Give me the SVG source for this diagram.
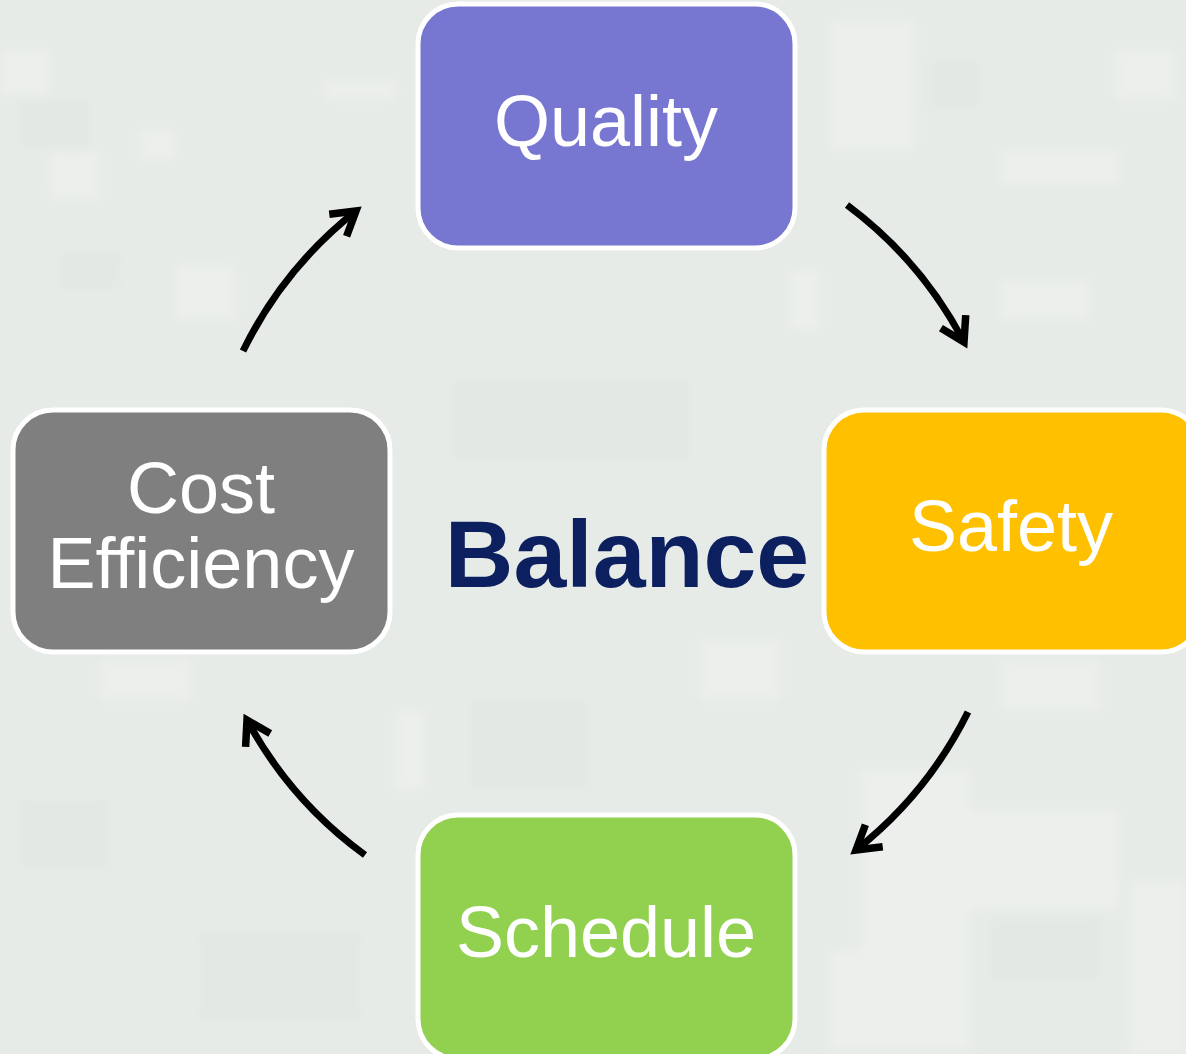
<svg xmlns="http://www.w3.org/2000/svg" width="1186" height="1054" viewBox="0 0 1186 1054">
  <defs>
    <style>
      .node-box { stroke: #ffffff; stroke-width: 5; }
      .label { font-family: "Liberation Sans", Arial, sans-serif; font-size: 72px; fill: #ffffff; text-anchor: middle; }
      .center { font-family: "Liberation Sans", Arial, sans-serif; font-size: 95px; font-weight: bold; fill: #0c2060; text-anchor: middle; }
      .flow { fill: none; stroke: #000000; stroke-width: 7; marker-end: url(#chevron); }
      .patch-l { fill: #f1f3ee; }
      .patch-d { fill: #e0e6e2; }
    </style>
    <marker id="chevron" markerUnits="userSpaceOnUse" orient="auto" refX="0" refY="0" markerWidth="40" markerHeight="40" viewBox="-30 -20 40 40" overflow="visible">
      <path d="M-23,-14 L0,0 L-23,14" fill="none" stroke="#000000" stroke-width="7.5" stroke-linejoin="miter"/>
    </marker>
    <filter id="soft" x="-5%" y="-5%" width="110%" height="110%">
      <feGaussianBlur stdDeviation="4"/>
    </filter>
  </defs>

  <!-- soft camouflage backdrop -->
  <rect width="1186" height="1054" fill="#e6ebe8"/>
  <g filter="url(#soft)" opacity="0.55">
    <rect class="patch-l" x="0" y="50" width="50" height="45"/>
    <rect class="patch-l" x="50" y="150" width="50" height="50"/>
    <rect class="patch-l" x="140" y="130" width="35" height="30"/>
    <rect class="patch-l" x="175" y="265" width="60" height="55"/>
    <rect class="patch-l" x="325" y="80" width="70" height="20"/>
    <rect class="patch-l" x="830" y="20" width="85" height="130"/>
    <rect class="patch-l" x="1000" y="150" width="120" height="35"/>
    <rect class="patch-l" x="1115" y="50" width="60" height="50"/>
    <rect class="patch-l" x="1000" y="280" width="90" height="40"/>
    <rect class="patch-l" x="790" y="270" width="30" height="60"/>
    <rect class="patch-d" x="930" y="60" width="50" height="50"/>
    <rect class="patch-d" x="20" y="100" width="70" height="50"/>
    <rect class="patch-d" x="60" y="250" width="60" height="40"/>
    <rect class="patch-l" x="100" y="660" width="90" height="40"/>
    <rect class="patch-l" x="1000" y="660" width="100" height="50"/>
    <rect class="patch-l" x="860" y="770" width="110" height="180"/>
    <rect class="patch-l" x="960" y="810" width="160" height="100"/>
    <rect class="patch-l" x="830" y="950" width="140" height="100"/>
    <rect class="patch-l" x="1130" y="880" width="56" height="174"/>
    <rect class="patch-d" x="990" y="920" width="110" height="60"/>
    <rect class="patch-d" x="200" y="930" width="160" height="90"/>
    <rect class="patch-d" x="20" y="800" width="90" height="70"/>
    <rect class="patch-l" x="395" y="710" width="30" height="80"/>
    <rect class="patch-d" x="450" y="380" width="240" height="80"/>
    <rect class="patch-l" x="700" y="640" width="80" height="60"/>
    <rect class="patch-d" x="470" y="700" width="120" height="90"/>
  </g>

  <!-- cycle connectors -->
  <g id="connectors">
    <path class="flow" d="M847,205 A405,405 0 0 1 964,342"/>
    <path class="flow" d="M968,712 A405,405 0 0 1 856,850"/>
    <path class="flow" d="M365,855 A405,405 0 0 1 247,720"/>
    <path class="flow" d="M243,351 A405,405 0 0 1 356,211"/>
  </g>

  <g id="node-quality">
    <rect class="node-box" x="418" y="4" width="377" height="244" rx="40" fill="#7777d2"/>
    <text class="label" x="606" y="146">Quality</text>
  </g>

  <g id="node-safety">
    <rect class="node-box" x="824" y="410" width="377" height="242" rx="40" fill="#ffc000"/>
    <text class="label" x="1011" y="551">Safety</text>
  </g>

  <g id="node-schedule">
    <rect class="node-box" x="418" y="815" width="377" height="244" rx="40" fill="#92d050"/>
    <text class="label" x="606" y="957">Schedule</text>
  </g>

  <g id="node-cost">
    <rect class="node-box" x="13" y="410" width="377" height="242" rx="40" fill="#7f7f7f"/>
    <text class="label" x="201" y="513">Cost</text>
    <text class="label" x="201" y="588">Efficiency</text>
  </g>

  <g id="center-label">
    <text class="center" x="627" y="587">Balance</text>
  </g>
</svg>
